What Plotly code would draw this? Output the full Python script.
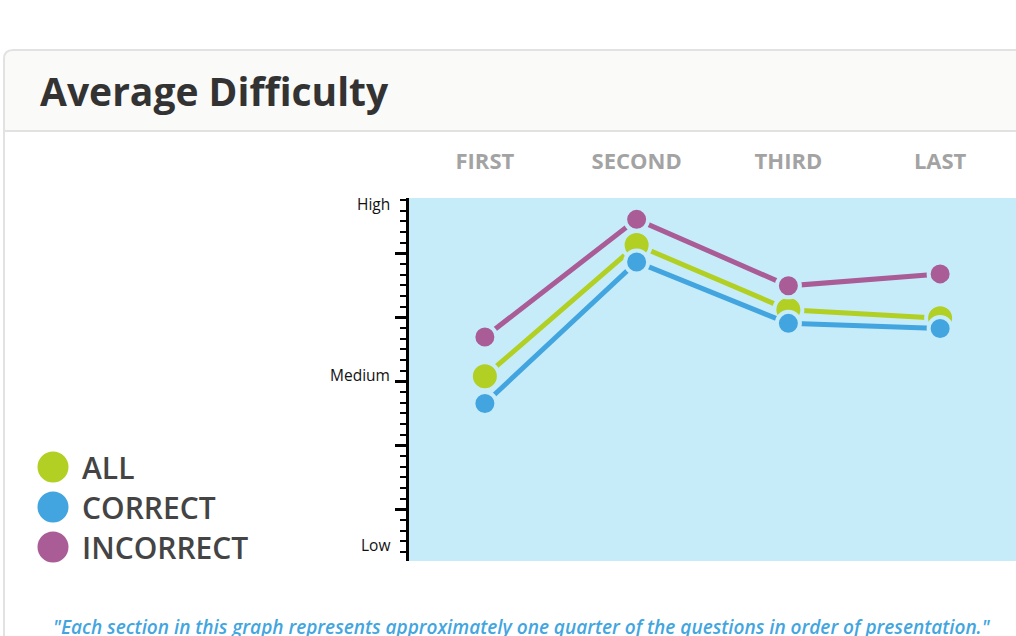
import plotly.graph_objects as go

# ---- data ----
categories = ["FIRST", "SECOND", "THIRD", "LAST"]
all_vals = [0.99, 1.76, 1.38, 1.33]
correct_vals = [0.83, 1.66, 1.30, 1.27]
incorrect_vals = [1.22, 1.91, 1.52, 1.59]
level_vals = [0, 1, 2]
level_text = ["Low", "Medium", "High"]
series_names = ["ALL", "CORRECT", "INCORRECT"]
title_text = "Average Difficulty"
footnote = "\"Each section in this graph represents approximately one quarter of the questions in order of presentation.\""

# ---- styles ----
W, H = 1016, 636
ML, MR, MT, MB = 409, 0, 198, 75
PW, PH = W - ML - MR, H - MT - MB
BG = "#c6ecfa"
colors = {"ALL": "#b2cf24", "CORRECT": "#42a5df", "INCORRECT": "#a95c96"}
sizes = {"ALL": 28, "CORRECT": 23, "INCORRECT": 23}
values = {"ALL": all_vals, "CORRECT": correct_vals, "INCORRECT": incorrect_vals}


def px(x):
    return (x - ML) / PW


def py(y):
    return (H - MB - y) / PH


fig = go.Figure()
for name in series_names:
    fig.add_trace(go.Scatter(
        x=categories, y=values[name], name=name, mode="lines+markers",
        line=dict(color=colors[name], width=5),
        marker=dict(size=sizes[name], color=colors[name], line=dict(color=BG, width=4)),
        showlegend=False, cliponaxis=False,
    ))

# y scale: Low=0 at 545px, High=2 at 204px
ppu = (545 - 204) / 2.0
y_top = 2 + (204 - MT) / ppu
y_bot = -((H - MB) - 545) / ppu
major0 = (545 - 253.3) / ppu
major_d = 64 / ppu
minor_d = major_d / 6

fig.update_xaxes(
    type="category", categoryorder="array", categoryarray=categories,
    range=[-0.5, 3.5], side="top", showgrid=False, zeroline=False, showline=False,
    ticks="", ticklabelstandoff=24,
    tickfont=dict(family="Open Sans", size=22, color="#a3a3a3", weight=700),
)
fig.update_yaxes(
    range=[y_bot, y_top], showgrid=False, zeroline=False,
    showline=True, linecolor="black", linewidth=3,
    tickmode="linear", tick0=major0, dtick=major_d,
    ticks="outside", ticklen=11, tickwidth=3, tickcolor="black",
    showticklabels=False,
    minor=dict(tickmode="linear", tick0=major0, dtick=minor_d, ticks="outside",
               ticklen=6, tickwidth=2, tickcolor="black", showgrid=False),
)

shapes = []
# card header (rounded top-left)
r = 9
x0, x1, y0, y1 = 4, W + 20, 50, 131
path = (f"M {px(x0)},{py(y1)} L {px(x0)},{py(y0 + r)} "
        f"Q {px(x0)},{py(y0)} {px(x0 + r)},{py(y0)} "
        f"L {px(x1)},{py(y0)} L {px(x1)},{py(y1)} Z")
shapes.append(dict(type="path", xref="paper", yref="paper", path=path,
                   fillcolor="#fafaf8", line=dict(color="#e2e2e2", width=2), layer="below"))
shapes.append(dict(type="line", xref="paper", yref="paper", x0=px(x0), x1=px(x0),
                   y0=py(y1), y1=py(H + 10), line=dict(color="#e2e2e2", width=2)))
# legend swatches
leg_y = [467, 507, 547]
for name, yy in zip(series_names, leg_y):
    shapes.append(dict(type="circle", xref="paper", yref="paper", xsizemode="pixel",
                       ysizemode="pixel", xanchor=px(53), yanchor=py(yy),
                       x0=-15.5, x1=15.5, y0=-15.5, y1=15.5,
                       fillcolor=colors[name], line=dict(width=0)))

annotations = []
annotations.append(dict(xref="paper", yref="paper", x=px(38), y=py(90), xanchor="left",
                        yanchor="middle", text=title_text, showarrow=False,
                        font=dict(family="Open Sans", size=39, color="#333333", weight=700)))
for v, t in zip(level_vals, level_text):
    annotations.append(dict(xref="paper", yref="y", x=0, y=v, xshift=-17, xanchor="right",
                            yanchor="middle", text=t, showarrow=False,
                            font=dict(family="Open Sans", size=15.5, color="#111111")))
for name, yy in zip(series_names, leg_y):
    annotations.append(dict(xref="paper", yref="paper", x=px(80), y=py(yy), xanchor="left",
                            yanchor="middle", text=name, showarrow=False,
                            font=dict(family="Open Sans", size=30, color="#444444", weight=600)))
annotations.append(dict(xref="paper", yref="paper", x=px(522), y=py(627), xanchor="center",
                        yanchor="middle", text=footnote, showarrow=False,
                        font=dict(family="Open Sans", size=19, color="#42a5df", style="italic",
                                  weight=600)))

fig.update_layout(
    width=W, height=H, margin=dict(l=ML, r=MR, t=MT, b=MB, autoexpand=False),
    paper_bgcolor="white", plot_bgcolor=BG,
    shapes=shapes, annotations=annotations, showlegend=False,
)
fig.write_html("out.html", config={"displayModeBar": False},
               post_script="document.body.style.margin='0';document.body.style.overflow='hidden';")
